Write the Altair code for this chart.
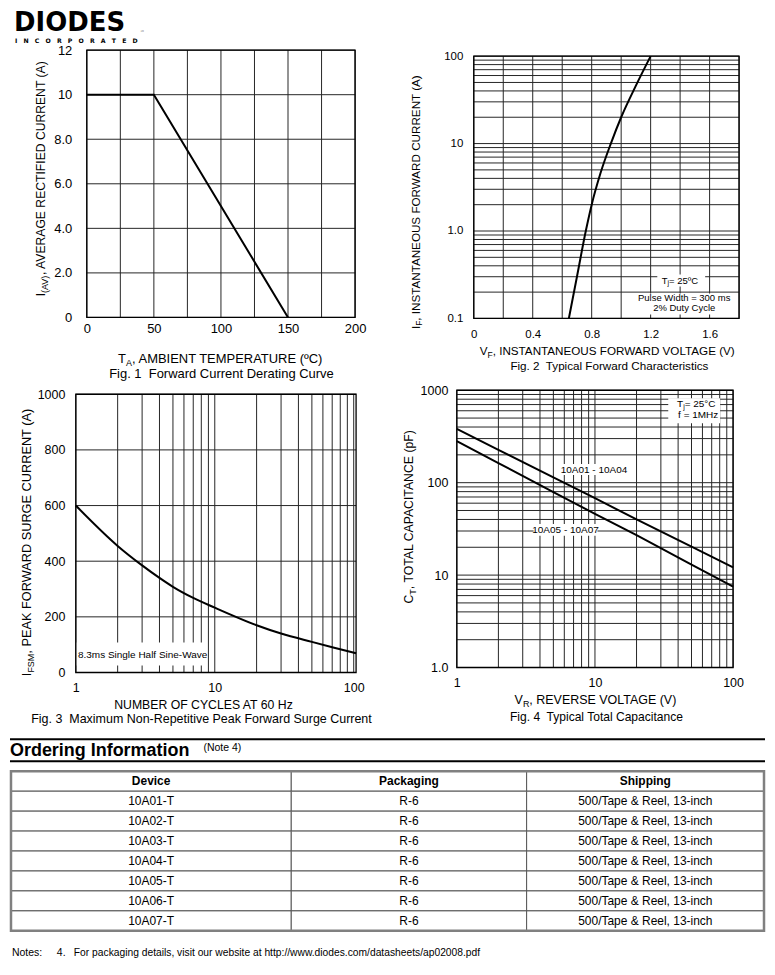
import altair as alt
import pandas as pd

# ---------------- data ----------------
# Fig 1 - derating curve
temp_c = [0, 50, 150]
iav_a = [10, 10, 0]
# Fig 2 - forward characteristics
vf_v = [0.645, 0.70, 0.76, 0.80, 0.86, 0.93, 1.0, 1.10, 1.20]
if_a = [0.1, 0.3, 1.0, 2.0, 4.6, 10, 20, 46, 100]
# Fig 3 - surge current
cycles = [1, 2, 3, 4, 5, 7, 10, 20, 30, 50, 70, 104]
ifsm_a = [600, 455, 385, 340, 308, 268, 233, 170, 140, 110, 91, 69]
# Fig 4 - capacitance
vr_v = [1, 2, 5, 10, 20, 50, 100]
ct_a01_a04 = [382, 227, 114, 68, 40, 20.3, 12.1]
ct_a05_a07 = [282, 163, 79, 46, 27, 13.0, 7.5]
# gridlines
grid1_x = [0, 25, 50, 75, 100, 125, 150, 175, 200]
grid1_y = [0, 2, 4, 6, 8, 10, 12]
grid2_x = [0, 0.2, 0.4, 0.6, 0.8, 1.0, 1.2, 1.4, 1.6, 1.8]
grid_dec_3 = [round(d * m, 6) for d in [0.1, 1, 10] for m in range(1, 10)] + [100]
grid_dec_2 = [d * m for d in [1, 10] for m in range(1, 10)] + [100]
grid_dec_3b = [d * m for d in [1, 10, 100] for m in range(1, 10)] + [1000]
grid3_y = [0, 200, 400, 600, 800, 1000]
# Ordering table
tbl_header = ["Device", "Packaging", "Shipping"]
devices = ["10A01-T", "10A02-T", "10A03-T", "10A04-T", "10A05-T", "10A06-T", "10A07-T"]
packaging = ["R-6"] * 7
shipping = ["500/Tape & Reel, 13-inch"] * 7

ONE = pd.DataFrame({"k": [0]})
FONT = "Liberation Sans"
GRID = "#262626"

W = {'A': 667, 'B': 667, 'C': 722, 'D': 722, 'E': 667, 'F': 611, 'G': 778, 'H': 722, 'I': 278,
     'J': 500, 'K': 667, 'L': 556, 'M': 833, 'N': 722, 'O': 778, 'P': 667, 'Q': 778, 'R': 722,
     'S': 667, 'T': 611, 'U': 722, 'V': 667, 'W': 944, 'X': 667, 'Y': 667, 'Z': 611, ' ': 278,
     ',': 278, '.': 278, '(': 333, ')': 333, 'º': 365, '°': 400, '-': 333, '=': 584, '%': 889,
     'j': 222, 'p': 556, 'z': 500}


def tw(s, size):
    return sum(W.get(c, 556 if c.isdigit() else 520) for c in s) / 1000.0 * size


def txt(s, x, y, size=13, angle=0, align="left", weight="normal", font=FONT, baseline="middle"):
    return alt.Chart(ONE).mark_text(text=s, align=align, baseline=baseline, fontSize=size,
                                    angle=angle, fontWeight=weight, font=font,
                                    color="black").encode(x=alt.value(x), y=alt.value(y))


def box(x1, y1, x2, y2):
    return alt.Chart(ONE).mark_rect(color="white").encode(
        x=alt.value(x1), x2=alt.value(x2), y=alt.value(y1), y2=alt.value(y2))


def frame(x1, y1, x2, y2, color="black", width=1.3):
    return alt.Chart(ONE).mark_rect(filled=False, stroke=color, strokeWidth=width).encode(
        x=alt.value(x1), x2=alt.value(x2), y=alt.value(y1), y2=alt.value(y2))


def htitle(cx, y, main, sub, rest, size, subsize):
    w1, w2, w3 = tw(main, size), tw(sub, subsize), tw(rest, size)
    x0 = cx - (w1 + w2 + w3) / 2
    return [txt(main, x0, y, size), txt(sub, x0 + w1, y + size * 0.3, subsize),
            txt(rest, x0 + w1 + w2, y, size)]


def vtitle(cy, x, main, sub, rest, size, subsize):
    w1, w2, w3 = tw(main, size), tw(sub, subsize), tw(rest, size)
    y0 = cy + (w1 + w2 + w3) / 2
    return [txt(main, x, y0, size, angle=270),
            txt(sub, x + size * 0.3, y0 - w1, subsize, angle=270),
            txt(rest, x, y0 - w1 - w2, size, angle=270)]


def axis(values, expr, pad, size):
    return alt.Axis(values=values, labelExpr=expr, grid=False, ticks=False, domain=False,
                    title=None, labelOverlap=False, labelFlush=False, labelPadding=pad,
                    labelFontSize=size, labelFont=FONT, labelColor="black")


def grid_layers(xs, xa, ys, ya, xvals, yvals, x0, x1, y0, y1):
    vx = alt.Chart(pd.DataFrame({"gx": xvals})).mark_rule(color=GRID, strokeWidth=1).encode(
        x=alt.X("gx:Q", scale=xs, axis=xa), y=alt.value(y0), y2=alt.value(y1))
    hy = alt.Chart(pd.DataFrame({"gy": yvals})).mark_rule(color=GRID, strokeWidth=1).encode(
        y=alt.Y("gy:Q", scale=ys, axis=ya), x=alt.value(x0), x2=alt.value(x1))
    return [vx, hy]


# ---------------- Fig 1 ----------------  view origin page (74,48); plot 11..280 x 0..268
ox, oy = 11, 0
xs1 = alt.Scale(domain=[0, 200], range=[11, 280], nice=False)
xa1 = axis([0, 50, 100, 150, 200], "datum.label", 4, 13)
ys1 = alt.Scale(domain=[0, 12], range=[268, 0], nice=False)
ya1 = axis([0, 2, 4, 6, 8, 10, 12],
           "datum.value == 0 ? '0' : datum.value >= 10 ? datum.label : format(datum.value, '.1f')", 4, 13)
df1 = pd.DataFrame({"t": temp_c, "i": iav_a})
fig1 = alt.layer(
    *grid_layers(xs1, xa1, ys1, ya1, grid1_x, grid1_y, 11, 280, 0, 268),
    frame(11, 0, 280, 268),
    alt.Chart(df1).mark_line(color="black", strokeWidth=2).encode(
        x=alt.X("t:Q", scale=xs1, axis=xa1), y=alt.Y("i:Q", scale=ys1, axis=ya1)),
    *htitle(135 + ox, 310, "T", "A", ", AMBIENT TEMPERATURE (ºC)", 13, 9),
    txt("Fig. 1\u00a0 Forward Current Derating Curve", 135 + ox, 325, 13, align="center"),
    *vtitle(128, -46 + ox, "I", "(AV)", ", AVERAGE RECTIFIED CURRENT (A)", 12.2, 9),
).properties(width=280, height=269)

# ---------------- Fig 2 ----------------  view origin page (456,48); plot 17..283 x 6..269
ox, oy = 17, 6
xs2 = alt.Scale(domain=[0, 1.8], range=[17, 283], nice=False)
xa2 = axis([0, 0.4, 0.8, 1.2, 1.6], "datum.value == 0 ? '0' : format(datum.value, '.1f')", 10, 11.5)
ys2 = alt.Scale(type="log", domain=[0.1, 100], range=[269, 6], nice=False)
ya2 = axis([0.1, 1, 10, 100],
           "datum.value == 0.1 ? '0.1' : datum.value == 1 ? '1.0' : datum.value == 10 ? '10' : '100'",
           -6, 11.5)
df2 = pd.DataFrame({"v": vf_v, "i": if_a})
fig2 = alt.layer(
    *grid_layers(xs2, xa2, ys2, ya2, grid2_x, grid_dec_3, 17, 283, 6, 269),
    frame(17, 6, 283, 269),
    box(184 + ox, 219 + oy, 232 + ox, 231 + oy), box(166 + ox, 238 + oy, 255 + ox, 259 + oy),
    *htitle(208 + ox, 225 + oy, "T", "j", " = 25ºC", 9.5, 7),
    txt("Pulse Width = 300 ms", 211 + ox, 243 + oy, 9.5, align="center"),
    txt("2% Duty Cycle", 211 + ox, 253 + oy, 9.5, align="center"),
    alt.Chart(df2).mark_line(color="black", strokeWidth=2, interpolate="monotone").encode(
        x=alt.X("v:Q", scale=xs2, axis=xa2), y=alt.Y("i:Q", scale=ys2, axis=ya2)),
    *htitle(136 + ox, 296 + oy, "V", "F", ", INSTANTANEOUS FORWARD VOLTAGE (V)", 11.7, 8.5),
    txt("Fig. 2\u00a0 Typical Forward Characteristics", 136 + ox, 311 + oy, 11.7, align="center"),
    *vtitle(145 + oy, -58 + ox, "I", "F", ", INSTANTANEOUS FORWARD CURRENT (A)", 11.7, 8.5),
).properties(width=283, height=269)

# ---------------- Fig 3 ----------------  view origin page (74,389); plot 0..281 x 4..283
ox, oy = 0, 4
xs3 = alt.Scale(type="log", domain=[1, 104], range=[0, 281], nice=False)
xa3 = axis([1, 10, 100], "format(datum.value, 'd')", 9, 12.5)
ys3 = alt.Scale(domain=[0, 1000], range=[283, 4], nice=False)
ya3 = axis(grid3_y, "format(datum.value, 'd')", 11, 12.5)
df3 = pd.DataFrame({"n": cycles, "i": ifsm_a})
fig3 = alt.layer(
    *grid_layers(xs3, xa3, ys3, ya3, grid_dec_2, grid3_y, 0, 281, 4, 283),
    frame(0, 4, 281, 283),
    box(1, 249 + oy, 131, 272 + oy),
    txt("8.3ms Single Half Sine-Wave", 67, 261 + oy, 10, align="center"),
    alt.Chart(df3).mark_line(color="black", strokeWidth=2, interpolate="monotone").encode(
        x=alt.X("n:Q", scale=xs3, axis=xa3), y=alt.Y("i:Q", scale=ys3, axis=ya3)),
    txt("NUMBER OF CYCLES AT 60 Hz", 128, 312 + oy, 12.3, align="center"),
    txt("Fig. 3\u00a0 Maximum Non-Repetitive Peak Forward Surge Current", 126, 326 + oy, 12.5,
        align="center"),
    *vtitle(148 + oy, -49, "I", "FSM", ", PEAK FORWARD SURGE CURRENT (A)", 12.8, 9),
).properties(width=281, height=283)

# ---------------- Fig 4 ----------------  view origin page (456,389); plot 0..277 x 0..278
xs4 = alt.Scale(type="log", domain=[1, 100], range=[0, 277], nice=False)
xa4 = axis([1, 10, 100], "format(datum.value, 'd')", 4, 12.5)
ys4 = alt.Scale(type="log", domain=[1, 1000], range=[278, 0], nice=False)
ya4 = axis([1, 10, 100, 1000], "datum.value == 1 ? '1.0' : format(datum.value, 'd')", 9, 12.5)
df4 = pd.DataFrame({
    "v": vr_v + vr_v,
    "c": ct_a01_a04 + ct_a05_a07,
    "s": ["10A01 - 10A04"] * len(vr_v) + ["10A05 - 10A07"] * len(vr_v)})
fig4 = alt.layer(
    *grid_layers(xs4, xa4, ys4, ya4, grid_dec_2, grid_dec_3b, 0, 277, 0, 278),
    frame(0, 0, 277, 278),
    box(212, 8, 264, 33),
    *htitle(241.5, 14, "T", "j", " = 25°C", 10, 7),
    txt("f = 1MHz", 242, 25, 10, align="center"),
    box(106, 74, 169, 85), txt("10A01 - 10A04", 137.5, 79.5, 10, align="center"),
    box(77, 134, 141, 146), txt("10A05 - 10A07", 109, 140, 10, align="center"),
    alt.Chart(df4).mark_line(color="black", strokeWidth=2).encode(
        x=alt.X("v:Q", scale=xs4, axis=xa4), y=alt.Y("c:Q", scale=ys4, axis=ya4), detail="s:N"),
    *htitle(140, 311, "V", "R", ", REVERSE VOLTAGE (V)", 12.5, 9),
    txt("Fig. 4\u00a0 Typical Total Capacitance", 140, 328, 12.1, align="center"),
    *vtitle(125, -48, "C", "T", ", TOTAL CAPACITANCE (pF)", 12.3, 9),
).properties(width=277, height=283)

# ---------------- header / logo ----------------
header = alt.layer(
    txt("DIODES", 4, 13, 26, weight="bold", font="DejaVu Sans"),
    txt("\u2003".join("INCORPORATED"), 5, 30.5, 6.2, weight="bold", font="DejaVu Sans"),
    txt("™", 130, 22, 5, font="DejaVu Sans"),
).properties(width=1, height=40)

# ---------------- ordering heading ----------------
heading = alt.layer(
    alt.Chart(ONE).mark_rule(color="black", strokeWidth=2).encode(
        x=alt.value(0), x2=alt.value(757), y=alt.value(1)),
    alt.Chart(ONE).mark_rule(color="black", strokeWidth=2).encode(
        x=alt.value(0), x2=alt.value(757), y=alt.value(23)),
    txt("Ordering Information", 0, 13, 18, weight="bold"),
    txt("(Note 4)", 194, 10, 10.5),
).properties(width=1, height=24)

# ---------------- table ----------------
rows = [tbl_header] + [[d, p, s] for d, p, s in zip(devices, packaging, shipping)]
cells = pd.DataFrame([
    {"r": ri, "c0": ci, "c1": ci + 1, "cm": ci + 0.5, "text": val, "hdr": ri == 0}
    for ri, row in enumerate(rows) for ci, val in enumerate(row)])
xsc = alt.Scale(domain=[0, 1, 2, 3], range=[1, 282, 518, 756], nice=False)
ysc = alt.Scale(paddingInner=0, paddingOuter=0, range=[1, 161])
tbl_base = alt.Chart(cells)
table = alt.layer(
    tbl_base.mark_rect(fill="white", stroke="#555555", strokeWidth=1).encode(
        x=alt.X("c0:Q", scale=xsc, axis=None), x2="c1:Q",
        y=alt.Y("r:O", scale=ysc, axis=None)),
    tbl_base.transform_filter("datum.hdr").mark_text(
        fontSize=12, font=FONT, fontWeight="bold", color="black").encode(
        x=alt.X("cm:Q", scale=xsc, axis=None), y=alt.Y("r:O", scale=ysc, axis=None), text="text:N"),
    tbl_base.transform_filter("!datum.hdr").mark_text(
        fontSize=12, font=FONT, color="black").encode(
        x=alt.X("cm:Q", scale=xsc, axis=None), y=alt.Y("r:O", scale=ysc, axis=None), text="text:N"),
    frame(1, 1, 756, 161, color="#808080", width=2.5),
).properties(width=1, height=162)

notes = alt.layer(
    txt("Notes:", 2, 21, 10.5),
    txt("4.", 47, 21, 10.5),
    txt("For packaging details, visit our website at http://www.diodes.com/datasheets/ap02008.pdf",
        64, 21, 10.3),
).properties(width=1, height=30)


def sp(w, h):
    return alt.Chart(ONE).mark_rect(opacity=0).encode(
        x=alt.value(0), x2=alt.value(1), y=alt.value(0), y2=alt.value(1)
    ).properties(width=w, height=h)


grid = [
    header, sp(1, 40), sp(101, 40), sp(1, 40),
    sp(66, 269), fig1, sp(1, 269), fig2,
    sp(1, 72), sp(1, 72), sp(1, 72), sp(1, 72),
    sp(1, 283), fig3, sp(1, 283), fig4,
    sp(1, 66), sp(1, 66), sp(1, 66), sp(1, 66),
    heading, sp(1, 24), sp(1, 24), sp(1, 24),
    sp(1, 8), sp(1, 8), sp(1, 8), sp(1, 8),
    table, sp(1, 162), sp(1, 162), sp(1, 162),
    notes, sp(1, 30), sp(1, 30), sp(1, 30),
]

chart = alt.concat(*grid, columns=4, spacing=0, bounds="flush", align="each").properties(
    padding=0, background="white"
).configure_view(stroke="transparent")

chart.save("out.html", embed_options={"renderer": "svg", "actions": False})
